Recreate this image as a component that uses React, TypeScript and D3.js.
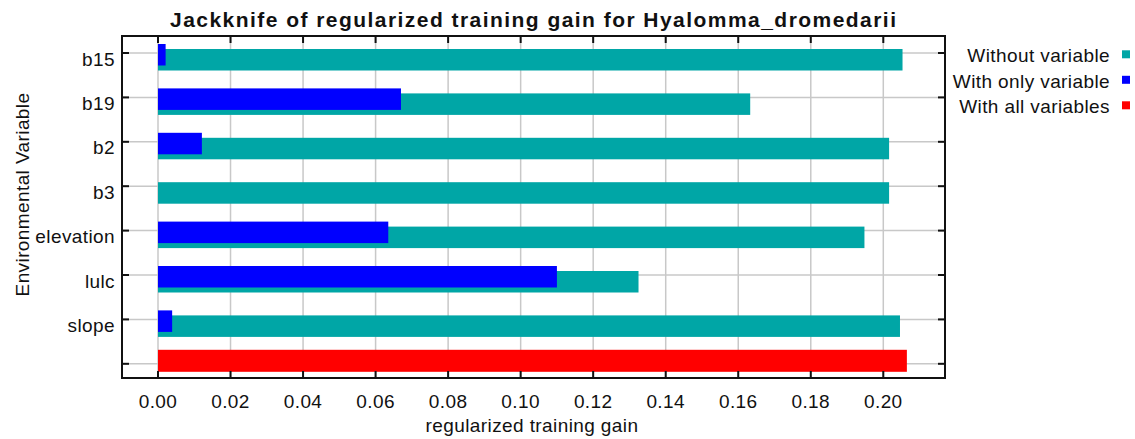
import React from "react";
import * as d3 from "d3";

const categories = ["b15", "b19", "b2", "b3", "elevation", "lulc", "slope"];
const withoutVariable = [0.2053, 0.1633, 0.2016, 0.2016, 0.1948, 0.1325, 0.2046];
const withOnlyVariable = [0.0021, 0.067, 0.0121, 0.0, 0.0635, 0.11, 0.0039];
const withAllVariables = 0.2065;
const xTicks = [0, 0.02, 0.04, 0.06, 0.08, 0.1, 0.12, 0.14, 0.16, 0.18, 0.2];
const legendItems = [
  { label: "Without variable", color: "#00A6A6" },
  { label: "With only variable", color: "#0000FF" },
  { label: "With all variables", color: "#FF0000" },
];

const W = 1135;
const H = 439;
const frame = { left: 122, right: 945, top: 36, bottom: 378 };
const TEAL = "#00A6A6";
const BLUE = "#0000FF";
const RED = "#FF0000";
const FONT = "'Liberation Sans', Arial, sans-serif";

export default function App() {
  const x = d3.scaleLinear().domain([0, 0.2]).range([158, 883.3]);
  const y = d3.scaleLinear().domain([0, 7]).range([53, 363.8]);
  const rows = d3.range(categories.length + 1);
  const barH = 21.5;

  return (
    <svg
      width={W}
      height={H}
      style={{ position: "absolute", left: 0, top: 0, background: "#fff" }}
      fontFamily={FONT}
    >
      <rect x={0} y={0} width={W} height={H} fill="#fff" />
      {/* gridlines */}
      {xTicks.map((t) => (
        <line key={"gx" + t} x1={x(t)} x2={x(t)} y1={frame.top} y2={frame.bottom} stroke="#c8c8c8" strokeWidth={1.5} />
      ))}
      {rows.map((i) => (
        <line key={"gy" + i} x1={frame.left} x2={frame.right} y1={y(i)} y2={y(i)} stroke="#c8c8c8" strokeWidth={1.5} />
      ))}
      {/* bars */}
      {categories.map((c, i) => (
        <rect key={"t" + c} x={x(0)} y={y(i) - 4} width={x(withoutVariable[i]) - x(0)} height={barH} fill={TEAL} />
      ))}
      {categories.map((c, i) =>
        withOnlyVariable[i] > 0 ? (
          <rect key={"b" + c} x={x(0)} y={y(i) - 9} width={x(withOnlyVariable[i]) - x(0)} height={barH} fill={BLUE} />
        ) : null
      )}
      <rect x={x(0)} y={y(categories.length) - 14} width={x(withAllVariables) - x(0)} height={22} fill={RED} />
      {/* frame */}
      <rect
        x={frame.left}
        y={frame.top}
        width={frame.right - frame.left}
        height={frame.bottom - frame.top}
        fill="none"
        stroke="#111"
        strokeWidth={2}
      />
      {/* x ticks */}
      {xTicks.map((t) => (
        <g key={"xt" + t}>
          <line x1={x(t)} x2={x(t)} y1={frame.top} y2={frame.top + 7} stroke="#111" strokeWidth={2} />
          <line x1={x(t)} x2={x(t)} y1={frame.bottom} y2={frame.bottom - 7} stroke="#111" strokeWidth={2} />
          <text x={x(t)} y={408} textAnchor="middle" fontSize={19} letterSpacing={0.4} fill="#111">
            {d3.format(".2f")(t)}
          </text>
        </g>
      ))}
      {/* y ticks */}
      {rows.map((i) => (
        <g key={"yt" + i}>
          <line x1={frame.left} x2={frame.left + 7} y1={y(i)} y2={y(i)} stroke="#111" strokeWidth={2} />
          <line x1={frame.right} x2={frame.right - 7} y1={y(i)} y2={y(i)} stroke="#111" strokeWidth={2} />
        </g>
      ))}
      {categories.map((c, i) => (
        <text key={"yl" + c} x={115} y={y(i) + 12.5} textAnchor="end" fontSize={19} letterSpacing={0.4} fill="#111">
          {c}
        </text>
      ))}
      {/* titles */}
      <text x={533} y={27} textAnchor="middle" fontSize={21} fontWeight="bold" textLength={726} lengthAdjust="spacing" fill="#111">
        Jackknife of regularized training gain for Hyalomma_dromedarii
      </text>
      <text x={532} y={432} textAnchor="middle" fontSize={19} letterSpacing={0.4} fill="#111">
        regularized training gain
      </text>
      <text
        transform={`translate(29, 194.5) rotate(-90)`}
        textAnchor="middle"
        fontSize={19}
        letterSpacing={0.4}
        fill="#111"
      >
        Environmental Variable
      </text>
      {/* legend */}
      {legendItems.map((d, i) => {
        const base = 62.3 + i * 25.5;
        return (
          <g key={d.label}>
            <text x={1110} y={base} textAnchor="end" fontSize={19} letterSpacing={0.4} fill="#111">
              {d.label}
            </text>
            <rect x={1122} y={base - 12} width={8} height={8} fill={d.color} />
          </g>
        );
      })}
    </svg>
  );
}
